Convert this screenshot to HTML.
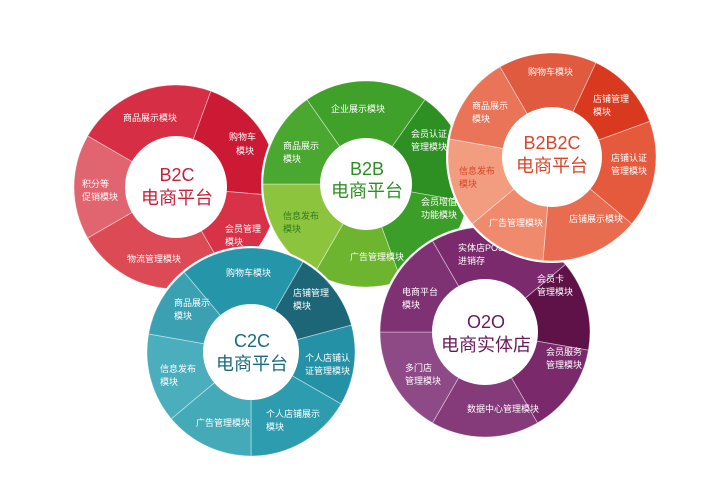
<!DOCTYPE html>
<html><head><meta charset="utf-8"><style>
html,body{margin:0;padding:0;background:#fff;}
svg{display:block;}
text{font-family:"Liberation Sans","Noto Sans CJK SC",sans-serif;}
.l{fill:#fff;font-size:9px;}
.h{font-size:18px;}
</style></head><body>
<svg id="s" width="722" height="491" viewBox="0 0 722 491" xmlns="http://www.w3.org/2000/svg">
<g id="g1"></g>
<g id="t1">
<text class="l" x="123" y="121">商品展示模块</text>
<text class="l" x="229" y="140">购物车</text><text class="l" x="236" y="154">模块</text>
<text class="l" x="82" y="187">积分等</text><text class="l" x="82" y="200">促销模块</text>
<text class="l" x="225" y="232">会员管理</text><text class="l" x="225" y="245">模块</text>
<text class="l" x="127" y="262">物流管理模块</text>
<text class="h" x="177" y="181" text-anchor="middle" fill="#c8203a">B2C</text>
<text class="h" x="177" y="204" text-anchor="middle" fill="#c8203a">电商平台</text>
</g>
<g id="g2"></g>
<g id="t2">
<text class="l" x="331" y="112">企业展示模块</text>
<text class="l" x="283" y="149">商品展示</text><text class="l" x="283" y="162">模块</text>
<text class="l" x="411" y="137">会员认证</text><text class="l" x="411" y="150">管理模块</text>
<text class="l" x="421" y="205">会员增值</text><text class="l" x="421" y="218">功能模块</text>
<text class="l" x="283" y="219" style="fill:#2e7d1e">信息发布</text><text class="l" x="283" y="232" style="fill:#2e7d1e">模块</text>
<text class="l" x="350" y="260">广告管理模块</text>
<text class="h" x="367" y="175" text-anchor="middle" fill="#2e8f22">B2B</text>
<text class="h" x="367" y="197" text-anchor="middle" fill="#2e8f22">电商平台</text>
</g>
<g id="g3"></g>
<g id="t3">
<text class="l" x="226" y="276">购物车模块</text>
<text class="l" x="174" y="306">商品展示</text><text class="l" x="174" y="319">模块</text>
<text class="l" x="293" y="296">店铺管理</text><text class="l" x="293" y="309">模块</text>
<text class="l" x="305" y="361">个人店铺认</text><text class="l" x="305" y="374">证管理模块</text>
<text class="l" x="160" y="372">信息发布</text><text class="l" x="160" y="385">模块</text>
<text class="l" x="266" y="417">个人店铺展示</text><text class="l" x="266" y="430">模块</text>
<text class="l" x="196" y="426">广告管理模块</text>
<text class="h" x="252" y="347" text-anchor="middle" fill="#1d6a7c">C2C</text>
<text class="h" x="252" y="370" text-anchor="middle" fill="#1d6a7c">电商平台</text>
</g>
<g id="g4"></g>
<g id="t4">
<text class="l" x="458" y="251">实体店POS</text><text class="l" x="458" y="264">进销存</text>
<text class="l" x="537" y="282">会员卡</text><text class="l" x="537" y="295">管理模块</text>
<text class="l" x="402" y="295">电商平台</text><text class="l" x="402" y="308">模块</text>
<text class="l" x="546" y="355">会员服务</text><text class="l" x="546" y="368">管理模块</text>
<text class="l" x="405" y="371">多门店</text><text class="l" x="405" y="384">管理模块</text>
<text class="l" x="467" y="412">数据中心管理模块</text>
<text class="h" x="486" y="328" text-anchor="middle" fill="#6a1a5a">O2O</text>
<text class="h" x="486" y="351" text-anchor="middle" fill="#6a1a5a">电商实体店</text>
</g>
<g id="g5"></g>
<g id="t5">
<text class="l" x="528" y="75">购物车模块</text>
<text class="l" x="472" y="109">商品展示</text><text class="l" x="472" y="122">模块</text>
<text class="l" x="593" y="102">店铺管理</text><text class="l" x="593" y="115">模块</text>
<text class="l" x="611" y="161">店铺认证</text><text class="l" x="611" y="174">管理模块</text>
<text class="l" x="459" y="174" style="fill:#d8452a">信息发布</text><text class="l" x="459" y="187" style="fill:#d8452a">模块</text>
<text class="l" x="489" y="226">广告管理模块</text>
<text class="l" x="569" y="222">店铺展示模块</text>
<text class="h" x="552" y="149" text-anchor="middle" fill="#d8452a">B2B2C</text>
<text class="h" x="552" y="172" text-anchor="middle" fill="#d8452a">电商平台</text>
</g>
</svg>
<script>
var NS="http://www.w3.org/2000/svg";
function wheel(id,cx,cy,r,ri,segs){
  var g=document.getElementById(id);
  var c=document.createElementNS(NS,"circle");
  c.setAttribute("cx",cx);c.setAttribute("cy",cy);c.setAttribute("r",r+2);c.setAttribute("fill","#fff");g.appendChild(c);
  for(var i=0;i<segs.length;i++){
    var a0=segs[i][0]*Math.PI/180,a1=segs[(i+1)%segs.length][0]*Math.PI/180;
    if(a1<=a0)a1+=2*Math.PI;
    var x0=cx+r*Math.cos(a0),y0=cy+r*Math.sin(a0),x1=cx+r*Math.cos(a1),y1=cy+r*Math.sin(a1);
    var p=document.createElementNS(NS,"path");
    p.setAttribute("d","M"+cx+","+cy+"L"+x0+","+y0+"A"+r+","+r+" 0 "+((a1-a0)>Math.PI?1:0)+" 1 "+x1+","+y1+"Z");
    p.setAttribute("fill",segs[i][1]);p.setAttribute("stroke","rgba(255,255,255,0.5)");p.setAttribute("stroke-width","0.8");
    g.appendChild(p);
  }
  var ci=document.createElementNS(NS,"circle");
  ci.setAttribute("cx",cx);ci.setAttribute("cy",cy);ci.setAttribute("r",ri);ci.setAttribute("fill","#fff");g.appendChild(ci);
}
wheel("g1",176,187,102,51,[[-150,"#d62e45"],[-70,"#cc1a35"],[5,"#d83248"],[60,"#dc4a55"],[150,"#e06570"]]);
wheel("g2",366,184,103,46,[[-125,"#3fa02a"],[-55,"#2e8f22"],[10,"#3a9e28"],[70,"#6db52e"],[120,"#8dc43e"],[180,"#4aa830"]]);
wheel("g3",251,352,104,48,[[-130,"#2596aa"],[-60,"#1d6677"],[-15,"#2591a6"],[30,"#2d9caf"],[90,"#45aab8"],[140,"#4aaebd"],[190,"#3aa0b2"]]);
wheel("g4",485,332,105,53,[[-120,"#7b2a6e"],[-40,"#5e1248"],[10,"#7a2a6a"],[60,"#853a7a"],[120,"#8e4a86"],[180,"#7e3274"]]);
wheel("g5",552,157,104,50,[[-120,"#e05a40"],[-65,"#d93a1f"],[-20,"#e55a3c"],[40,"#e86c50"],[95,"#ef8a6c"],[140,"#f29c80"],[190,"#ea7458"]]);
</script>
</body></html>
